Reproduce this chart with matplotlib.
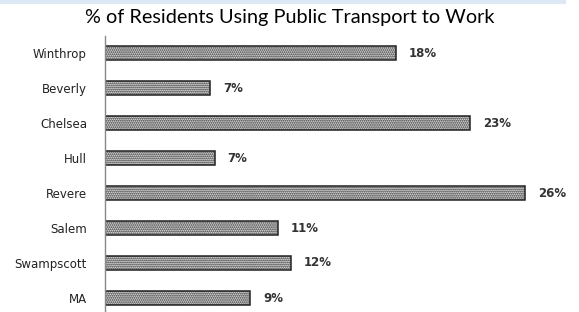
import matplotlib.pyplot as plt
import matplotlib.patches as patches

towns = ["Winthrop", "Beverly", "Chelsea", "Hull", "Revere", "Salem", "Swampscott", "MA"]
share = [18.0, 6.5, 22.6, 6.8, 26.0, 10.7, 11.5, 9.0]
labels = ["18%", "7%", "23%", "7%", "26%", "11%", "12%", "9%"]

plt.rcParams['hatch.color'] = '#555555'
plt.rcParams['hatch.linewidth'] = 0.9

fig = plt.figure(figsize=(5.79, 3.12), dpi=100)

# pale blue strip at the top edge
fig.patches.append(patches.Rectangle((0, 0.988), 566 / 579, 0.012, transform=fig.transFigure,
                                     facecolor='#dce8f4', edgecolor='none'))

fig.text(0.5, 0.945, "% of Residents Using Public Transport to Work", ha='center', va='center',
         fontsize=14.3, family='Lato')

ax = fig.add_axes([105 / 579, 0, 465 / 579, (312 - 35.5) / 312])
ypos = list(range(len(towns)))
ax.barh(ypos, share, height=0.4, facecolor='#e4e4e4', edgecolor='#222222', linewidth=1.1, hatch='........')
for y, v, t in zip(ypos, share, labels):
    ax.text(v + 0.8, y, t, va='center', ha='left', fontsize=8.5, fontweight='bold', color='#333333')

ax.set_xlim(0, 465 / 16.15)
ax.set_ylim(7.4, -0.5)
ax.set_yticks(ypos)
ax.set_yticklabels(towns, fontsize=8.5, color='#222222')
ax.tick_params(axis='y', length=0, pad=13)
ax.set_xticks([])
for s in ['top', 'right', 'bottom']:
    ax.spines[s].set_visible(False)
ax.spines['left'].set_color('#888888')
ax.spines['left'].set_linewidth(1.0)

fig.savefig('out.png', dpi=100)
